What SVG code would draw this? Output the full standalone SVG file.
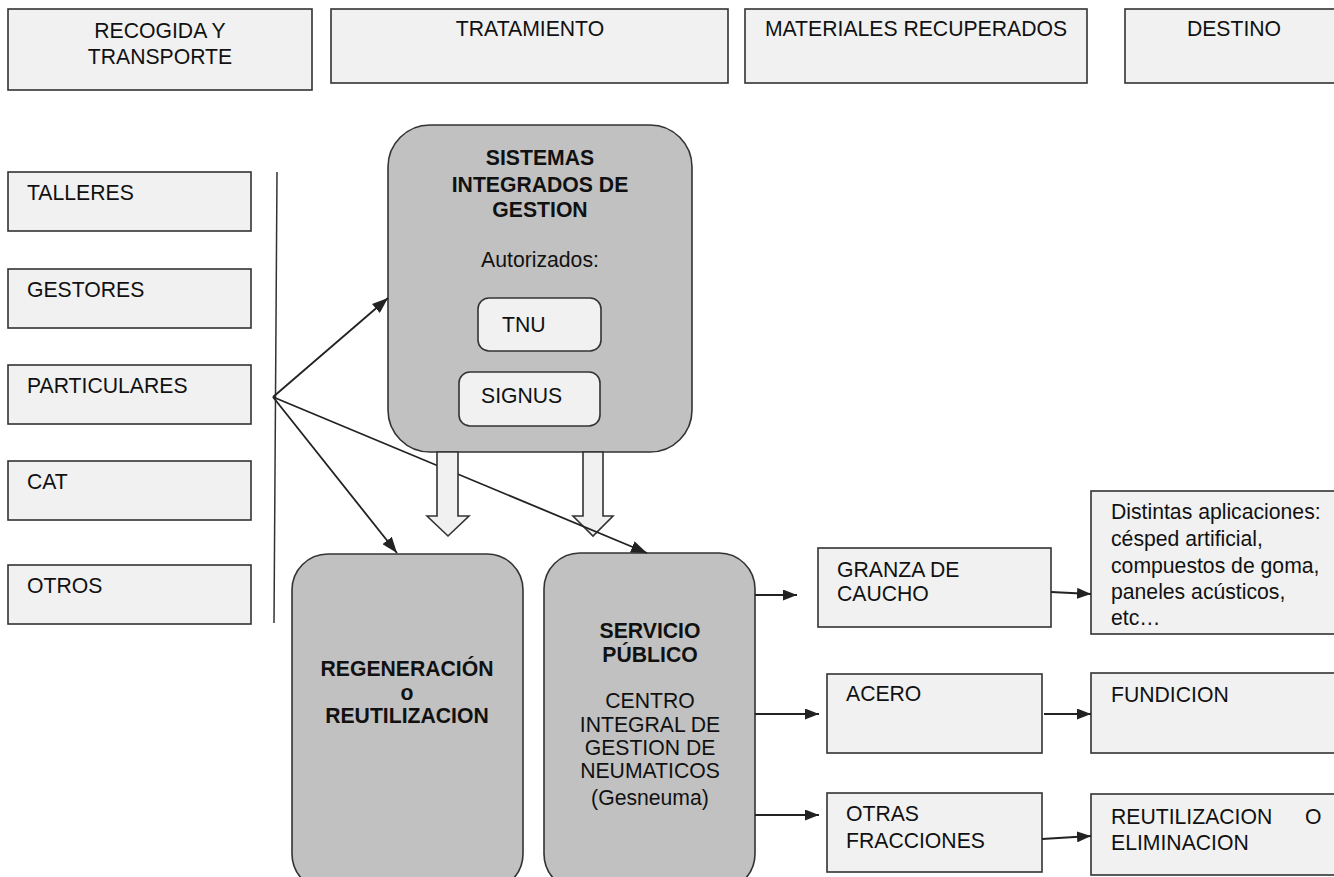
<svg xmlns="http://www.w3.org/2000/svg" width="1334" height="877" viewBox="0 0 1334 877">
  <defs>
    <style>
      .box { fill: #f1f1f1; stroke: #333; stroke-width: 1.6; }
      .gray { fill: #c1c1c1; stroke: #333; stroke-width: 1.6; }
      .pill { fill: #f1f1f1; stroke: #333; stroke-width: 1.6; }
      .hollow { fill: #f1f1f1; stroke: #333; stroke-width: 1.6; stroke-linejoin: miter; }
      .t { font-family: "Liberation Sans", Arial, sans-serif; font-size: 21.2px; fill: #111; }
      .c { text-anchor: middle; }
      .b { font-weight: bold; }
      .link { fill: none; stroke: #222; stroke-width: 1.8; }
      .rule { fill: none; stroke: #333; stroke-width: 1.5; }
    </style>
    <marker id="head" viewBox="0 0 14 11" refX="14" refY="5.5" markerWidth="14" markerHeight="11" markerUnits="userSpaceOnUse" orient="auto">
      <path d="M0,0 L14,5.5 L0,11 z" fill="#222"/>
    </marker>
    <marker id="head-lg" viewBox="0 0 16 12" refX="16" refY="6" markerWidth="16" markerHeight="12" markerUnits="userSpaceOnUse" orient="auto">
      <path d="M0,0 L16,6 L0,12 z" fill="#222"/>
    </marker>
  </defs>

  <!-- column headers -->
  <g id="hdr-recogida">
    <rect class="box" x="8" y="9" width="304" height="81"/>
    <text class="t c" x="160" y="38">RECOGIDA Y</text>
    <text class="t c" x="160" y="64">TRANSPORTE</text>
  </g>
  <g id="hdr-tratamiento">
    <rect class="box" x="331" y="9" width="397" height="74"/>
    <text class="t c" x="530" y="36">TRATAMIENTO</text>
  </g>
  <g id="hdr-materiales">
    <rect class="box" x="745" y="9" width="342" height="74"/>
    <text class="t c" x="916" y="36">MATERIALES RECUPERADOS</text>
  </g>
  <g id="hdr-destino">
    <rect class="box" x="1125" y="9" width="218" height="74"/>
    <text class="t c" x="1234" y="36">DESTINO</text>
  </g>

  <!-- collection sources -->
  <g id="talleres">
    <rect class="box" x="8" y="172" width="243" height="59"/>
    <text class="t" x="27" y="200">TALLERES</text>
  </g>
  <g id="gestores">
    <rect class="box" x="8" y="269" width="243" height="59"/>
    <text class="t" x="27" y="297">GESTORES</text>
  </g>
  <g id="particulares">
    <rect class="box" x="8" y="365" width="243" height="59"/>
    <text class="t" x="27" y="393">PARTICULARES</text>
  </g>
  <g id="cat">
    <rect class="box" x="8" y="461" width="243" height="59"/>
    <text class="t" x="27" y="489">CAT</text>
  </g>
  <g id="otros">
    <rect class="box" x="8" y="565" width="243" height="59"/>
    <text class="t" x="27" y="593">OTROS</text>
  </g>

  <!-- integrated management systems -->
  <g id="sig">
    <rect class="gray" x="388" y="125" width="304" height="327" rx="42"/>
    <text class="t c b" x="540" y="165">SISTEMAS</text>
    <text class="t c b" x="540" y="192">INTEGRADOS DE</text>
    <text class="t c b" x="540" y="217">GESTION</text>
    <text class="t c" x="540" y="267">Autorizados:</text>
  </g>
  <g id="tnu">
    <rect class="pill" x="478" y="298" width="123" height="53" rx="11"/>
    <text class="t" x="502" y="332">TNU</text>
  </g>
  <g id="signus">
    <rect class="pill" x="459" y="372" width="141" height="54" rx="11"/>
    <text class="t" x="481" y="403">SIGNUS</text>
  </g>

  <!-- treatment routes -->
  <g id="regeneracion">
    <rect class="gray" x="292" y="554" width="231" height="336" rx="36"/>
    <text class="t c b" x="407" y="676">REGENERACIÓN</text>
    <text class="t c b" x="407" y="700">o</text>
    <text class="t c b" x="407" y="723">REUTILIZACION</text>
  </g>
  <g id="servicio">
    <rect class="gray" x="544" y="553" width="211" height="337" rx="36"/>
    <text class="t c b" x="650" y="638">SERVICIO</text>
    <text class="t c b" x="650" y="662">PÚBLICO</text>
    <text class="t c" x="650" y="708">CENTRO</text>
    <text class="t c" x="650" y="732">INTEGRAL DE</text>
    <text class="t c" x="650" y="755">GESTION DE</text>
    <text class="t c" x="650" y="778">NEUMATICOS</text>
    <text class="t c" x="650" y="805">(Gesneuma)</text>
  </g>

  <!-- recovered materials -->
  <g id="granza">
    <rect class="box" x="818" y="548" width="233" height="79"/>
    <text class="t" x="837" y="577">GRANZA DE</text>
    <text class="t" x="837" y="601">CAUCHO</text>
  </g>
  <g id="acero">
    <rect class="box" x="827" y="674" width="215" height="79"/>
    <text class="t" x="846" y="701">ACERO</text>
  </g>
  <g id="otras">
    <rect class="box" x="827" y="793" width="215" height="79"/>
    <text class="t" x="846" y="821">OTRAS</text>
    <text class="t" x="846" y="848">FRACCIONES</text>
  </g>

  <!-- destinations -->
  <g id="aplicaciones">
    <rect class="box" x="1091" y="491" width="252" height="143"/>
    <text class="t" x="1111" y="519">Distintas aplicaciones:</text>
    <text class="t" x="1111" y="546">césped artificial,</text>
    <text class="t" x="1111" y="573">compuestos de goma,</text>
    <text class="t" x="1111" y="599">paneles acústicos,</text>
    <text class="t" x="1111" y="625">etc…</text>
  </g>
  <g id="fundicion">
    <rect class="box" x="1091" y="673" width="252" height="80"/>
    <text class="t" x="1111" y="702">FUNDICION</text>
  </g>
  <g id="eliminacion">
    <rect class="box" x="1091" y="794" width="252" height="81"/>
    <text class="t" x="1111" y="824">REUTILIZACION</text>
    <text class="t" x="1305" y="824">O</text>
    <text class="t" x="1111" y="850">ELIMINACION</text>
  </g>

  <!-- connectors -->
  <g id="connectors">
    <line class="rule" x1="277" y1="172" x2="274" y2="623"/>
    <polygon class="hollow" points="583,452 603,452 603,516 613,516 593,536 573,516 583,516"/>
    <line class="link" x1="273" y1="397" x2="388" y2="298" marker-end="url(#head-lg)"/>
    <line class="link" x1="273" y1="397" x2="397" y2="553" marker-end="url(#head-lg)"/>
    <line class="link" x1="273" y1="397" x2="647" y2="553" marker-end="url(#head-lg)"/>
    <polygon class="hollow" points="437,452 458,452 458,516 469,516 448,536 427,516 437,516"/>
    <line class="link" x1="755" y1="595" x2="797" y2="595" marker-end="url(#head)"/>
    <line class="link" x1="755" y1="714" x2="819" y2="714" marker-end="url(#head)"/>
    <line class="link" x1="755" y1="815" x2="819" y2="815" marker-end="url(#head)"/>
    <line class="link" x1="1051" y1="592" x2="1091" y2="594" marker-end="url(#head)"/>
    <line class="link" x1="1044" y1="714" x2="1091" y2="714" marker-end="url(#head)"/>
    <line class="link" x1="1042" y1="839" x2="1091" y2="836" marker-end="url(#head)"/>
  </g>
</svg>
